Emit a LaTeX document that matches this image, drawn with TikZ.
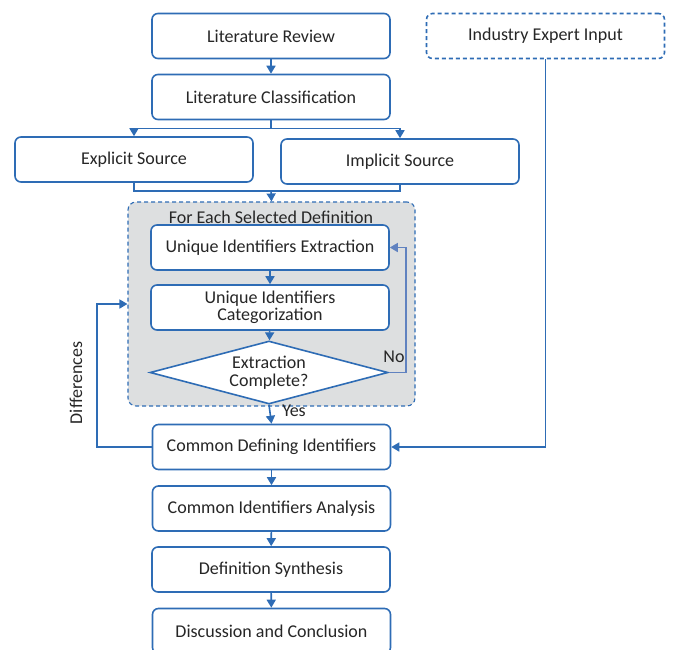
\documentclass[tikz,border=0pt]{standalone}
\usepackage{fontspec}
\setmainfont{Carlito}
\usetikzlibrary{shapes.geometric,arrows.meta}
\definecolor{lineblue}{RGB}{46,108,181}
\definecolor{loopblue}{RGB}{96,130,192}
\definecolor{groupgray}{RGB}{221,223,224}
\definecolor{textgray}{RGB}{38,38,38}
\tikzset{
  stepbox/.style={draw=lineblue, line width=1.6pt, rounded corners=6pt, fill=white,
    minimum width=238pt, minimum height=45pt, inner sep=0pt, align=center,
    text=textgray, font=\fontsize{18}{17.5}\selectfont},
  inputbox/.style={stepbox, dash pattern=on 4pt off 3pt},
  groupbox/.style={draw=lineblue, line width=1.1pt, dash pattern=on 4pt off 3pt,
    rounded corners=8pt, fill=groupgray, minimum width=287pt, minimum height=204pt, inner sep=0pt},
  decision/.style={diamond, aspect=3.78, draw=lineblue, line width=1.6pt, fill=white,
    minimum width=238pt, minimum height=63pt, inner sep=0pt, align=center,
    text=textgray, font=\fontsize{18}{17.5}\selectfont},
  flow/.style={draw=lineblue, line width=1.6pt, -{Triangle[width=9pt,length=8pt]}},
  plain/.style={draw=lineblue, line width=1.6pt},
  back/.style={draw=loopblue, line width=1.6pt, -{Triangle[width=9pt,length=8pt]}},
  tag/.style={text=textgray, font=\fontsize{18}{17.5}\selectfont, inner sep=0pt}
}
\begin{document}
\begin{tikzpicture}[x=1pt,y=-1pt]
\clip (0,0) rectangle (673,649);
\node [groupbox] (group) at (271.5,304) {};
\node [tag] (grouplabel) at (271,217) {For Each Selected Definition};
\node [stepbox] (litrev) at (271,36) {Literature Review};
\node [stepbox] (litclass) at (271,97) {Literature Classification};
\node [stepbox] (explicit) at (134,159.5) {Explicit Source};
\node [stepbox] (implicit) at (400,161.5) {Implicit Source};
\node [inputbox] (expert) at (545.5,36) {Industry Expert Input};
\node [stepbox] (extract) at (270,247.5) {Unique Identifiers Extraction};
\node [stepbox] (categ) at (270,307.5) {Unique Identifiers\\Categorization};
\node [decision] (complete) at (269,372.5) {Extraction\\Complete?};
\node [stepbox] (common) at (271.5,447) {Common Defining Identifiers};
\node [stepbox] (analysis) at (271.5,508.5) {Common Identifiers Analysis};
\node [stepbox] (synth) at (271,569.5) {Definition Synthesis};
\node [stepbox] (discuss) at (271.5,631) {Discussion and Conclusion};
\coordinate (merge) at (271,191);
\path [flow] (litrev) -- (litclass);
\path [flow] (litclass.south) -- ++(0,8) -| (explicit.north);
\path [flow] (litclass.south) -- ++(0,8) -| (implicit.north);
\path [plain] (explicit.south) |- (merge);
\path [plain] (implicit.south) |- (merge);
\path [flow] (merge) -- (group.north);
\path [flow] (extract) -- (categ);
\path [flow] (categ) -- (complete);
\path [back] (complete.east) -- ++(17,0) |- (extract.east);
\node [tag] (no) at (394,357) {No};
\path [flow] (complete.south) -- (common.north);
\node [tag] (yes) at (294,411) {Yes};
\path [flow] (expert.south) |- (common.east);
\path [flow] (common.west) -- ++(-55,0) |- (group.west);
\node [tag, rotate=90] (diff) at (76,383) {Differences};
\path [flow] (common) -- (analysis);
\path [flow] (analysis) -- (synth);
\path [flow] (synth) -- (discuss);
\end{tikzpicture}
\end{document}
